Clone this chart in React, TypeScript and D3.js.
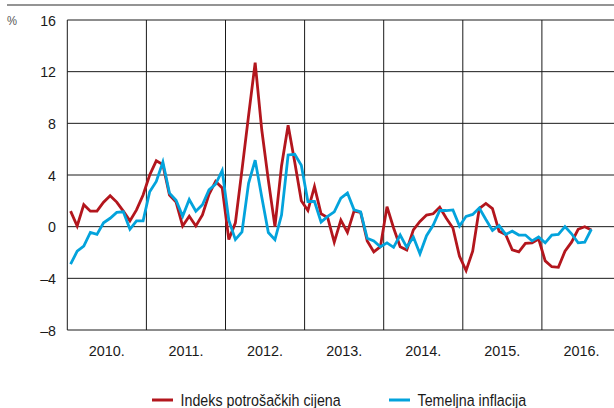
import React from "react";
import * as d3 from "d3";

const years = ["2010.", "2011.", "2012.", "2013.", "2014.", "2015.", "2016."];
const yTicks = [-8, -4, 0, 4, 8, 12, 16];

// monthly values, Jan 2010 - Aug 2016
const cpi = [
  1.2, 0.05, 1.7, 1.2, 1.2, 1.9, 2.4, 1.9, 1.2, 0.45, 1.3, 2.45,
  4.0, 5.1, 4.8, 2.45, 1.9, 0.05, 0.8, 0.05, 0.9, 2.5, 3.5, 3.0,
  -1.0, 0.3, 4.4, 8.6, 12.7, 7.5, 3.6, 0.0, 4.7, 7.85, 5.0, 2.0,
  1.25, 3.1, 1.0, 0.7, -1.2, 0.5, -0.45, 1.2, 1.1, -1.1, -1.95, -1.55,
  1.55, -0.1, -1.55, -1.8, -0.25, 0.4, 0.9, 1.0, 1.5, 0.65, -0.1, -2.3,
  -3.4, -1.9, 1.4, 1.8, 1.4, -0.35, -0.6, -1.8, -1.95, -1.3, -1.25, -0.95,
  -2.65, -3.1, -3.15, -1.9, -1.2, -0.2, 0.0, -0.25,
];

const core = [
  -2.9, -1.9, -1.5, -0.45, -0.6, 0.3, 0.65, 1.1, 1.15, -0.2, 0.45, 0.45,
  2.7, 3.5, 5.0, 2.6, 2.05, 0.8, 2.1, 1.2, 1.7, 2.85, 3.3, 4.35,
  0.5, -1.0, -0.4, 3.35, 5.15, 2.3, -0.45, -1.0, 0.9, 5.55, 5.6, 4.75,
  1.95, 1.95, 0.35, 0.8, 1.15, 2.2, 2.6, 1.3, 1.15, -0.9, -1.1, -1.55,
  -1.25, -1.6, -0.65, -1.6, -0.8, -2.1, -0.7, 0.1, 1.25, 1.25, 1.3, 0.05,
  0.8, 0.95, 1.45, 0.55, -0.3, 0.1, -0.6, -0.35, -0.65, -0.65, -1.1, -0.8,
  -1.25, -0.65, -0.6, 0.0, -0.55, -1.25, -1.2, -0.2,
];

const series = [
  { name: "Indeks potrošačkih cijena", values: cpi, color: "#b3161d" },
  { name: "Temeljna inflacija", values: core, color: "#03a3dc" },
];

const FONT = "'Liberation Sans', Arial, sans-serif";

// narrow-looking text: Liberation Sans squeezed horizontally
function Txt(props: { x: number; y: number; size: number; sx: number; anchor?: string; fill?: string; children: React.ReactNode }) {
  const { x, y, size, sx, anchor = "start", fill = "#1a1a1a", children } = props;
  return (
    <text
      transform={`translate(${x},${y}) scale(${sx},1)`}
      fontSize={size}
      textAnchor={anchor}
      fill={fill}
    >
      {children}
    </text>
  );
}

export default function App() {
  const W = 614;
  const H = 408;
  const left = 67.3;
  const yearW = 79.1;

  const x = d3.scaleLinear().domain([0, years.length * 12]).range([left, left + years.length * yearW]);
  const y = d3.scaleLinear().domain([-8, 16]).range([330, 20]);

  const line = d3
    .line<number>()
    .x((_, i) => x(i + 0.5))
    .y((d) => y(d));

  return (
    <svg
      width={W}
      height={H}
      style={{ position: "absolute", left: 0, top: 0, background: "#fff" }}
      fontFamily={FONT}
    >
      {/* top rule */}
      <line x1={7} x2={W} y1={5} y2={5} stroke="#707070" strokeWidth={1.5} />

      <Txt x={7} y={25} size={12.5} sx={0.9} fill="#555">%</Txt>

      {/* horizontal grid */}
      {yTicks.map((t) => (
        <g key={t}>
          <line x1={left} x2={W} y1={y(t)} y2={y(t)} stroke="#1a1a1a" strokeWidth={1} />
          <Txt x={56} y={y(t) + 5.5} size={15} sx={0.95} anchor="end">
            {t < 0 ? "\u2013" + Math.abs(t) : t}
          </Txt>
        </g>
      ))}

      {/* year separators and labels */}
      {years.map((yr, i) => (
        <g key={yr}>
          <line x1={x(i * 12)} x2={x(i * 12)} y1={y(16)} y2={y(-8)} stroke="#1a1a1a" strokeWidth={1} />
          <Txt x={x(i * 12 + 6)} y={356} size={15.5} sx={0.93} anchor="middle">
            {yr}
          </Txt>
        </g>
      ))}

      {/* series */}
      {series.map((s) => (
        <path
          key={s.name}
          d={line(s.values) || ""}
          fill="none"
          stroke={s.color}
          strokeWidth={2.8}
          strokeLinejoin="miter"
        />
      ))}

      {/* legend */}
      {series.map((s, i) => {
        const lx = i === 0 ? 152 : 389;
        return (
          <g key={s.name}>
            <line x1={lx} x2={lx + 21} y1={400} y2={400} stroke={s.color} strokeWidth={3} />
            <Txt x={lx + 28.5} y={405.5} size={17} sx={0.84}>
              {s.name}
            </Txt>
          </g>
        );
      })}
    </svg>
  );
}
